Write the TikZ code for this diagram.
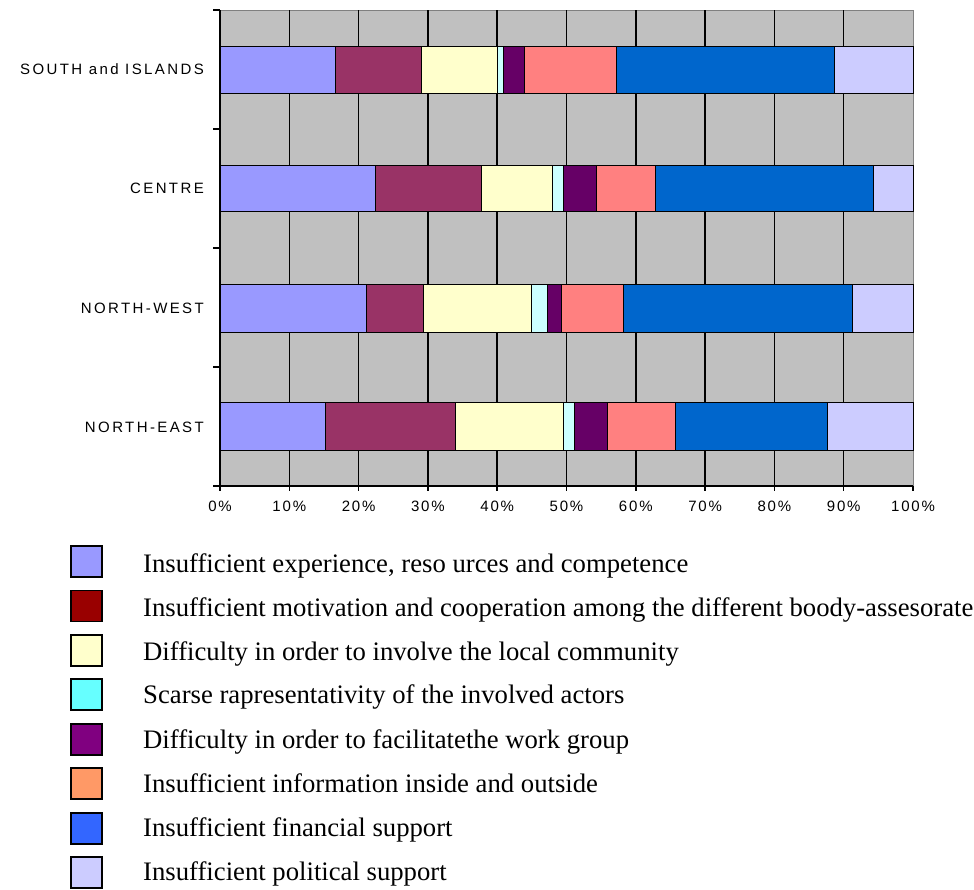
\documentclass[tikz,border=0pt]{standalone}
\usepackage{fontspec}
\setmainfont{Liberation Serif}
\newfontfamily\axisfont[LetterSpace=16]{Liberation Sans}
\newfontfamily\pctfont[LetterSpace=12]{Liberation Sans}

\definecolor{plotgray}{HTML}{C0C0C0}
\definecolor{expblue}{HTML}{9999FF}
\definecolor{motred}{HTML}{993366}
\definecolor{comyellow}{HTML}{FFFFCC}
\definecolor{actcyan}{HTML}{CCFFFF}
\definecolor{grppurple}{HTML}{660066}
\definecolor{infsalmon}{HTML}{FF8080}
\definecolor{finblue}{HTML}{0066CC}
\definecolor{pollav}{HTML}{CCCCFF}
\definecolor{keyred}{HTML}{990000}
\definecolor{keycyan}{HTML}{66FFFF}
\definecolor{keypurple}{HTML}{800080}
\definecolor{keyorange}{HTML}{FF9966}
\definecolor{keyblue}{HTML}{3366FF}

\tikzset{
    gridline/.style={black, line width=1.5pt},
    barpart/.style={draw=black, line width=0.9pt},
    catlabel/.style={anchor=east, inner sep=0pt, font=\axisfont\fontsize{15}{17}\selectfont},
    pctlabel/.style={anchor=center, inner sep=0pt, font=\pctfont\fontsize{15}{17}\selectfont},
    keybox/.style={draw=black, line width=1.4pt, minimum size=31pt, inner sep=0pt},
    keytext/.style={anchor=base west, inner sep=0pt, font=\fontsize{26.7}{30}\selectfont}
}

\begin{document}
\begin{tikzpicture}[x=1pt, y=-1pt]
    \useasboundingbox (0,0) rectangle (974,889);

    % plot area
    \fill[plotgray] (220,10) rectangle (913,486);
    \draw[gray, line width=1pt] (220,10) -- (913,10) -- (913,486);

    \begin{scope}[xshift=220pt, x=6.93pt]
        \foreach \p in {10,20,...,90}
            \draw[gridline] (\p,10) -- (\p,491);
        \draw[gridline] (100,486) -- (100,491);

        % SOUTH and ISLANDS
        \foreach \a/\b/\c in {0/16.6/expblue, 16.6/29.1/motred, 29.1/40.0/comyellow, 40.0/40.9/actcyan, 40.9/44.0/grppurple, 44.0/57.2/infsalmon, 57.2/88.7/finblue, 88.7/100/pollav}
            \filldraw[barpart, fill=\c] (\a,46) rectangle (\b,93);
        % CENTRE
        \foreach \a/\b/\c in {0/22.5/expblue, 22.5/37.7/motred, 37.7/47.9/comyellow, 47.9/49.5/actcyan, 49.5/54.3/grppurple, 54.3/62.8/infsalmon, 62.8/94.3/finblue, 94.3/100/pollav}
            \filldraw[barpart, fill=\c] (\a,165) rectangle (\b,211);
        % NORTH-WEST
        \foreach \a/\b/\c in {0/21.1/expblue, 21.1/29.3/motred, 29.3/44.9/comyellow, 44.9/47.3/actcyan, 47.3/49.3/grppurple, 49.3/58.2/infsalmon, 58.2/91.3/finblue, 91.3/100/pollav}
            \filldraw[barpart, fill=\c] (\a,284) rectangle (\b,332);
        % NORTH-EAST
        \foreach \a/\b/\c in {0/15.2/expblue, 15.2/34.0/motred, 34.0/49.5/comyellow, 49.5/51.1/actcyan, 51.1/55.9/grppurple, 55.9/65.7/infsalmon, 65.7/87.7/finblue, 87.7/100/pollav}
            \filldraw[barpart, fill=\c] (\a,402) rectangle (\b,450);

        \foreach \p in {0,10,...,100}
            \node[pctlabel] (p\p) at (\p,506) {\p\%};
    \end{scope}

    % axes
    \draw[gridline] (220,10) -- (220,491);
    \draw[gridline] (220,486) -- (913,486);
    \foreach \t in {10,129,248,367,486}
        \draw[gridline] (213,\t) -- (220,\t);

    \node[catlabel] (south) at (204,69) {SOUTH and ISLANDS};
    \node[catlabel] (centre) at (204,188) {CENTRE};
    \node[catlabel] (northwest) at (204,308) {NORTH-WEST};
    \node[catlabel] (northeast) at (204,427) {NORTH-EAST};

    % legend
    \node[keybox, fill=expblue] (key1) at (86.5,561.5) {};
    \node[keybox, fill=keyred] (key2) at (86.5,606) {};
    \node[keybox, fill=comyellow] (key3) at (86.5,650.5) {};
    \node[keybox, fill=keycyan] (key4) at (86.5,694.5) {};
    \node[keybox, fill=keypurple] (key5) at (86.5,739.5) {};
    \node[keybox, fill=keyorange] (key6) at (86.5,783.5) {};
    \node[keybox, fill=keyblue] (key7) at (86.5,828.5) {};
    \node[keybox, fill=pollav] (key8) at (86.5,872.5) {};

    \node[keytext] (txt1) at (143,572) {Insufficient experience, reso urces and competence};
    \node[keytext] (txt2) at (143,616) {Insufficient motivation and cooperation among the different boody-assesorate};
    \node[keytext] (txt3) at (143,660) {Difficulty in order to involve the local community};
    \node[keytext] (txt4) at (143,703.5) {Scarse rapresentativity of the involved actors};
    \node[keytext] (txt5) at (143,748) {Difficulty in order to facilitatethe work group};
    \node[keytext] (txt6) at (143,792) {Insufficient information inside and outside};
    \node[keytext] (txt7) at (143,836) {Insufficient financial support};
    \node[keytext] (txt8) at (143,880) {Insufficient political support};
\end{tikzpicture}
\end{document}
